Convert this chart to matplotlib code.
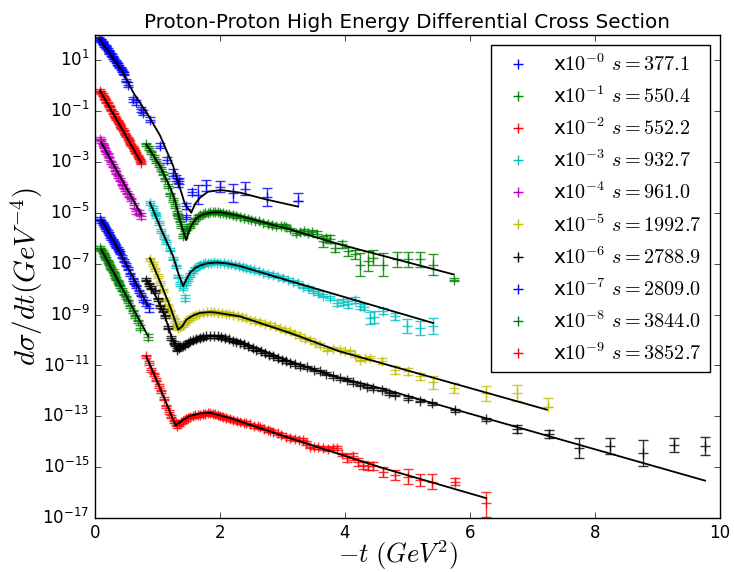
import numpy as np
import matplotlib
matplotlib.use('Agg')
import matplotlib.pyplot as plt

plt.style.use('classic')
plt.rcParams['axes.unicode_minus'] = False
plt.rcParams['mathtext.fontset'] = 'cm'

# centre-of-mass energies (legend) and plotting colours
energies = [377.1, 550.4, 552.2, 932.7, 961.0, 1992.7, 2788.9, 2809.0, 3844.0, 3852.7]
colors = ['b', 'g', 'r', 'c', 'm', 'y', 'k', 'b', 'g', 'r']

# ---- data: -t (GeV^2) and log10 of plotted (scaled by 10^-i) dsigma/dt ----
t0 = [0.07, 0.09, 0.10, 0.12, 0.13, 0.15, 0.17, 0.18, 0.20, 0.22, 0.23, 0.25, 0.27, 0.29, 0.31,
      0.33, 0.35, 0.37, 0.39, 0.41, 0.43, 0.45, 0.47, 0.50, 0.53, 0.61, 0.65, 0.73, 0.76, 0.88,
      1.04, 1.15, 1.24, 1.29, 1.33, 1.35, 1.45, 1.46, 1.55, 1.65, 1.78, 2.00, 2.20, 2.40, 2.75, 3.25]
y0 = [1.88, 1.80, 1.78, 1.70, 1.68, 1.60, 1.53, 1.51, 1.42, 1.36, 1.33, 1.25, 1.18, 1.12, 1.04,
      0.97, 0.89, 0.83, 0.75, 0.69, 0.62, 0.53, 0.47, 0.20, 0.05, -0.52, -0.65, -0.92, -1.05, -1.34,
      -2.36, -2.92, -3.41, -3.64, -3.83, -3.75, -4.73, -5.15, -4.18, -4.28, -3.92, -3.96, -4.20, -4.04, -4.36, -4.53]

t1 = [0.82, 0.86, 0.90, 0.94, 0.98, 1.02, 1.06, 1.09, 1.12, 1.16, 1.20, 1.24, 1.28, 1.31, 1.33,
      1.36, 1.38, 1.41, 1.44, 1.47, 1.52, 1.56, 1.60, 1.64, 1.68, 1.72, 1.76, 1.80, 1.84, 1.88,
      1.92, 1.96, 2.00, 2.05, 2.10, 2.15, 2.20, 2.26, 2.32, 2.38, 2.44, 2.50, 2.56, 2.62, 2.69,
      2.76, 2.83, 2.90, 2.97, 3.03, 3.06, 3.12, 3.22, 3.28, 3.34, 3.40, 3.47, 3.55, 3.65, 3.70,
      3.76, 3.84, 3.95, 4.05, 4.16, 4.24, 4.37, 4.45, 4.61, 4.83, 5.01, 5.20, 5.41, 5.74]
y1 = [-2.30, -2.45, -2.62, -2.80, -2.96, -3.12, -3.28, -3.45, -3.68, -3.95, -4.27, -4.50, -4.73, -5.00, -5.12,
      -5.30, -5.52, -5.91, -5.70, -5.60, -5.52, -5.38, -5.25, -5.17, -5.10, -5.05, -5.02, -4.99, -4.98, -4.97,
      -4.98, -4.97, -4.99, -5.00, -5.03, -5.05, -5.09, -5.12, -5.14, -5.19, -5.22, -5.26, -5.30, -5.33, -5.38,
      -5.43, -5.47, -5.52, -5.52, -5.50, -5.54, -5.65, -5.78, -5.76, -5.72, -5.79, -5.75, -5.84, -6.12, -6.00,
      -6.02, -6.37, -6.24, -6.50, -6.63, -7.03, -6.90, -6.76, -7.03, -6.83, -6.83, -6.83, -7.03, -7.62]

t2 = [0.08, 0.10, 0.12, 0.14, 0.16, 0.18, 0.20, 0.22, 0.24, 0.26, 0.28, 0.30, 0.32, 0.34, 0.36, 0.38, 0.40,
      0.42, 0.44, 0.46, 0.48, 0.50, 0.52, 0.54, 0.56, 0.58, 0.60, 0.62, 0.64, 0.66, 0.68, 0.70, 0.72, 0.74]
y2 = [-0.19, -0.27, -0.35, -0.45, -0.52, -0.62, -0.69, -0.79, -0.85, -0.95, -1.05, -1.12, -1.22, -1.30, -1.38,
      -1.47, -1.55, -1.64, -1.72, -1.79, -1.90, -1.98, -2.07, -2.15, -2.23, -2.33, -2.41, -2.50, -2.58, -2.64,
      -2.76, -2.84, -2.93, -3.02]

t3 = [0.88, 0.92, 0.96, 0.98, 1.02, 1.06, 1.10, 1.14, 1.20, 1.25, 1.29, 1.33, 1.36, 1.40, 1.44, 1.45,
      1.48, 1.52, 1.56, 1.60, 1.64, 1.68, 1.72, 1.76, 1.80, 1.85, 1.90, 1.95, 2.00, 2.06, 2.12, 2.18,
      2.24, 2.30, 2.36, 2.42, 2.48, 2.55, 2.62, 2.69, 2.76, 2.84, 2.92, 3.01, 3.09, 3.17, 3.25, 3.33,
      3.41, 3.49, 3.57, 3.65, 3.76, 3.87, 3.96, 4.05, 4.16, 4.24, 4.30, 4.40, 4.46, 4.61, 4.80, 4.99, 5.20, 5.41]
y3 = [-4.60, -4.80, -5.02, -5.12, -5.40, -5.70, -5.95, -6.15, -6.44, -6.80, -7.10, -7.50, -7.80, -7.95, -8.34, -7.75,
      -7.60, -7.45, -7.30, -7.18, -7.10, -7.04, -7.00, -6.98, -6.96, -6.95, -6.94, -6.95, -6.95, -6.97, -6.99, -7.02,
      -7.05, -7.08, -7.12, -7.16, -7.20, -7.25, -7.30, -7.35, -7.40, -7.45, -7.50, -7.55, -7.62, -7.70, -7.76, -7.90,
      -7.95, -8.08, -8.15, -8.25, -8.35, -8.54, -8.52, -8.60, -8.41, -8.67, -8.70, -9.13, -9.10, -8.87, -9.07, -9.46, -9.52, -9.46]

t4 = [0.08, 0.10, 0.12, 0.14, 0.16, 0.18, 0.20, 0.23, 0.26, 0.29, 0.32, 0.34, 0.37, 0.40, 0.43, 0.45,
      0.48, 0.51, 0.54, 0.58, 0.62, 0.66, 0.70, 0.74]
y4 = [-2.08, -2.17, -2.30, -2.40, -2.52, -2.62, -2.70, -2.85, -3.00, -3.15, -3.30, -3.41, -3.55, -3.70, -3.85, -3.94,
      -4.07, -4.20, -4.32, -4.47, -4.70, -4.93, -5.00, -5.12]

t5 = [0.88, 0.92, 0.96, 1.00, 1.04, 1.08, 1.12, 1.16, 1.20, 1.24, 1.28, 1.31, 1.33, 1.36, 1.40, 1.44,
      1.48, 1.52, 1.57, 1.62, 1.67, 1.73, 1.79, 1.85, 1.91, 1.97, 2.03, 2.09, 2.15, 2.21, 2.28, 2.35,
      2.42, 2.48, 2.56, 2.64, 2.72, 2.80, 2.88, 2.96, 3.04, 3.12, 3.20, 3.28, 3.36, 3.44, 3.52, 3.60,
      3.71, 3.80, 3.92, 4.00, 4.08, 4.16, 4.24, 4.32, 4.40, 4.59, 4.80, 5.01, 5.20, 5.40, 5.75, 6.26, 6.75, 7.25]
y5 = [-6.83, -7.00, -7.22, -7.48, -7.75, -8.05, -8.41, -8.65, -8.87, -9.08, -9.26, -9.42, -9.52, -9.48, -9.40, -9.33,
      -9.22, -9.13, -9.07, -9.00, -8.96, -8.93, -8.91, -8.90, -8.91, -8.92, -8.94, -8.96, -8.98, -9.00, -9.04, -9.09,
      -9.15, -9.20, -9.25, -9.30, -9.35, -9.39, -9.46, -9.54, -9.60, -9.66, -9.75, -9.85, -9.96, -9.98, -10.10, -10.20,
      -10.38, -10.34, -10.38, -10.45, -10.45, -10.60, -10.77, -10.72, -10.71, -10.82, -11.17, -11.23, -11.43, -11.66,
      -11.89, -12.10, -12.08, -12.64]

t6 = [0.82, 0.86, 0.90, 0.96, 1.00, 1.04, 1.08, 1.12, 1.17, 1.22, 1.26, 1.28, 1.31, 1.34, 1.36, 1.40,
      1.44, 1.48, 1.52, 1.57, 1.62, 1.68, 1.73, 1.78, 1.84, 1.90, 1.96, 2.02, 2.08, 2.14, 2.20, 2.26,
      2.32, 2.38, 2.45, 2.52, 2.58, 2.65, 2.72, 2.78, 2.85, 2.92, 2.99, 3.05, 3.12, 3.20, 3.28, 3.39,
      3.50, 3.60, 3.70, 3.81, 3.92, 4.03, 4.13, 4.24, 4.35, 4.45, 4.59, 4.70, 4.80, 5.01, 5.20, 5.39,
      5.76, 6.26, 6.75, 7.27, 7.75, 8.24, 8.77, 9.26, 9.76]
y6 = [-7.62, -7.80, -7.95, -8.08, -8.40, -8.67, -8.85, -9.07, -9.52, -9.92, -10.10, -10.18, -10.38, -10.30, -10.25, -10.22,
      -10.18, -10.10, -10.05, -10.00, -9.96, -9.92, -9.88, -9.85, -9.85, -9.85, -9.86, -9.88, -9.92, -9.97, -10.02, -10.07,
      -10.11, -10.17, -10.24, -10.32, -10.38, -10.45, -10.52, -10.58, -10.64, -10.71, -10.78, -10.84, -10.90, -10.96, -11.02, -11.07,
      -11.16, -11.23, -11.32, -11.43, -11.50, -11.56, -11.66, -11.76, -11.83, -11.89, -11.95, -12.10, -12.15, -12.28, -12.38, -12.48,
      -12.77, -13.11, -13.50, -13.69, -14.25, -14.16, -14.45, -14.12, -14.16]

t7 = [0.08, 0.10, 0.12, 0.14, 0.16, 0.18, 0.20, 0.22, 0.24, 0.26, 0.28, 0.30, 0.32, 0.34, 0.36, 0.38,
      0.40, 0.43, 0.46, 0.49, 0.52, 0.56, 0.60, 0.63, 0.66, 0.70, 0.73, 0.77, 0.82, 0.86]
y7 = [-5.22, -5.32, -5.40, -5.48, -5.56, -5.65, -5.74, -5.82, -5.91, -5.99, -6.07, -6.15, -6.24, -6.32, -6.40, -6.48,
      -6.57, -6.72, -6.88, -7.03, -7.20, -7.42, -7.60, -7.74, -7.88, -8.08, -8.22, -8.41, -8.55, -8.73]

t8 = [0.08, 0.10, 0.12, 0.14, 0.16, 0.18, 0.20, 0.22, 0.24, 0.26, 0.28, 0.30, 0.32, 0.34, 0.36, 0.38,
      0.40, 0.43, 0.46, 0.49, 0.52, 0.56, 0.60, 0.64, 0.68, 0.72, 0.85]
y8 = [-6.36, -6.44, -6.53, -6.62, -6.72, -6.81, -6.90, -7.00, -7.09, -7.19, -7.28, -7.38, -7.48, -7.58, -7.68, -7.78,
      -7.88, -8.03, -8.18, -8.32, -8.47, -8.67, -8.86, -9.06, -9.27, -9.52, -9.88]

t9 = [0.82, 0.86, 0.90, 0.94, 0.98, 1.02, 1.06, 1.10, 1.14, 1.18, 1.22, 1.26, 1.29, 1.31, 1.35, 1.38,
      1.41, 1.45, 1.49, 1.52, 1.56, 1.60, 1.64, 1.68, 1.72, 1.76, 1.80, 1.84, 1.88, 1.92, 1.96, 2.00,
      2.05, 2.10, 2.16, 2.21, 2.27, 2.32, 2.38, 2.42, 2.48, 2.54, 2.60, 2.64, 2.70, 2.76, 2.80, 2.85,
      2.92, 2.98, 3.05, 3.12, 3.20, 3.27, 3.33, 3.38, 3.44, 3.50, 3.56, 3.65, 3.72, 3.80, 3.87, 3.95,
      4.03, 4.13, 4.20, 4.29, 4.37, 4.45, 4.61, 4.80, 5.01, 5.20, 5.39, 5.76, 6.26]
y9 = [-10.64, -10.90, -11.17, -11.35, -11.56, -11.80, -12.02, -12.30, -12.61, -12.82, -13.01, -13.20, -13.27, -13.40, -13.30, -13.22,
      -13.20, -13.12, -13.05, -13.01, -12.98, -12.96, -12.95, -12.94, -12.90, -12.89, -12.88, -12.87, -12.90, -12.92, -12.95, -12.98,
      -13.02, -13.06, -13.10, -13.14, -13.18, -13.22, -13.25, -13.27, -13.32, -13.37, -13.40, -13.42, -13.48, -13.53, -13.56, -13.60,
      -13.67, -13.74, -13.80, -13.86, -13.90, -13.92, -13.93, -14.05, -14.19, -14.20, -14.22, -14.25, -14.28, -14.24, -14.25, -14.50,
      -14.65, -14.58, -14.80, -14.91, -14.95, -14.95, -15.18, -15.31, -15.37, -15.50, -15.57, -15.57, -16.42]

T = [t0, t1, t2, t3, t4, t5, t6, t7, t8, t9]
LOGY = [y0, y1, y2, y3, y4, y5, y6, y7, y8, y9]

# error bars (in decades): default per series, plus larger ones {t: (down, up)}
err_default = [0.06, 0.07, 0.05, 0.07, 0.06, 0.07, 0.06, 0.06, 0.06, 0.07]
err_special = [
    {0.53: (0.1, 0.1), 0.61: (0.1, 0.1), 0.65: (0.1, 0.1), 0.73: (0.1, 0.1), 0.76: (0.1, 0.1),
     0.88: (0.1, 0.1), 1.04: (0.1, 0.1), 1.15: (0.12, 0.12), 1.24: (0.12, 0.12), 1.29: (0.12, 0.12),
     1.33: (0.15, 0.15), 1.35: (0.12, 0.12), 1.45: (0.12, 0.12), 1.46: (0.08, 0.08), 1.55: (0.12, 0.12),
     1.65: (0.36, 0.36), 1.78: (0.2, 0.2), 2.00: (0.2, 0.2), 2.20: (0.35, 0.35), 2.40: (0.25, 0.25),
     2.75: (0.36, 0.36), 3.25: (0.0, 0.33)},
    {3.55: (0.12, 0.12), 3.65: (0.2, 0.2), 3.70: (0.15, 0.15), 3.76: (0.15, 0.15), 3.84: (0.18, 0.18),
     3.95: (0.15, 0.15), 4.05: (0.18, 0.18), 4.16: (0.18, 0.18), 4.24: (0.46, 0.46), 4.37: (0.40, 0.40),
     4.45: (0.30, 0.30), 4.61: (0.46, 0.46), 4.83: (0.28, 0.28), 5.01: (0.28, 0.28), 5.20: (0.28, 0.28),
     5.41: (0.43, 0.43), 5.74: (0.05, 0.05)},
    {},
    {1.44: (0.13, 0.13), 3.87: (0.12, 0.12), 3.96: (0.12, 0.12), 4.05: (0.12, 0.12), 4.16: (0.12, 0.12),
     4.24: (0.12, 0.12), 4.30: (0.12, 0.12), 4.40: (0.24, 0.24), 4.46: (0.24, 0.24), 4.61: (0.12, 0.12),
     4.80: (0.15, 0.15), 4.99: (0.28, 0.28), 5.20: (0.28, 0.28), 5.41: (0.32, 0.32)},
    {0.62: (0.1, 0.1), 0.66: (0.1, 0.1), 0.70: (0.1, 0.1), 0.74: (0.1, 0.1)},
    {4.59: (0.12, 0.12), 4.80: (0.15, 0.15), 5.01: (0.15, 0.15), 5.20: (0.15, 0.15), 5.40: (0.25, 0.25),
     5.75: (0.2, 0.2), 6.26: (0.3, 0.3), 6.75: (0.3, 0.3), 7.25: (0.0, 0.35)},
    {6.75: (0.15, 0.15), 7.27: (0.16, 0.16), 7.75: (0.40, 0.40), 8.24: (0.32, 0.32), 8.77: (0.50, 0.50),
     9.26: (0.28, 0.28), 9.76: (0.36, 0.36)},
    {0.77: (0.1, 0.1), 0.82: (0.12, 0.12), 0.86: (0.15, 0.15)},
    {0.72: (0.1, 0.1), 0.85: (0.13, 0.13)},
    {4.03: (0.15, 0.15), 4.13: (0.15, 0.15), 4.20: (0.15, 0.15), 4.29: (0.15, 0.15), 4.37: (0.15, 0.15),
     4.45: (0.15, 0.15), 4.61: (0.2, 0.2), 4.80: (0.2, 0.2), 5.01: (0.28, 0.28), 5.20: (0.24, 0.24),
     5.39: (0.3, 0.3), 5.76: (0.15, 0.15), 6.26: (0.55, 0.45)},
]

# ---- fit curves (black lines), log10 of plotted value ----
ft0 = [0.07, 0.30, 0.45, 0.61, 0.85, 1.04, 1.25, 1.44, 1.54, 1.60, 1.68, 1.81, 2.02, 2.32, 2.74, 3.25]
fy0 = [1.86, 1.05, 0.52, -0.25, -1.15, -1.95, -3.15, -4.66, -4.99, -4.65, -4.40, -4.16, -4.10, -4.20, -4.47, -4.75]
ft1 = [0.82, 0.95, 1.05, 1.14, 1.22, 1.28, 1.36, 1.46, 1.52, 1.57, 1.65, 1.73, 1.85, 2.00, 2.32, 3.12, 3.92, 5.74]
fy1 = [-2.30, -2.80, -3.20, -3.68, -4.10, -4.50, -5.30, -6.07, -5.60, -5.38, -5.15, -5.06, -4.99, -4.97, -5.12, -5.65, -6.24, -7.42]
ft2 = [0.08, 0.74]
fy2 = [-0.19, -3.02]
ft3 = [0.88, 1.06, 1.25, 1.33, 1.41, 1.46, 1.52, 1.60, 1.68, 1.80, 1.94, 2.10, 2.32, 3.12, 5.41]
fy3 = [-4.60, -5.65, -6.70, -7.35, -7.88, -7.62, -7.35, -7.17, -7.07, -6.98, -6.95, -6.98, -7.09, -7.68, -9.33]
ft4 = [0.10, 0.74]
fy4 = [-2.23, -5.06]
ft5 = [0.88, 1.04, 1.20, 1.33, 1.40, 1.46, 1.57, 1.68, 1.85, 1.94, 2.32, 3.12, 3.92, 7.23]
fy5 = [-6.78, -7.70, -8.67, -9.59, -9.45, -9.20, -9.03, -8.93, -8.90, -8.92, -9.07, -9.72, -10.45, -12.74]
ft6 = [0.82, 1.00, 1.12, 1.22, 1.32, 1.40, 1.52, 1.65, 1.85, 2.00, 2.32, 3.12, 3.92, 4.56, 9.76]
fy6 = [-7.62, -8.40, -9.07, -9.85, -10.41, -10.25, -10.02, -9.88, -9.82, -9.86, -10.05, -10.84, -11.49, -11.89, -15.53]
ft7 = [0.10, 0.40, 0.85]
fy7 = [-5.25, -6.55, -8.67]
ft8 = [0.10, 0.85]
fy8 = [-6.44, -9.85]
ft9 = [0.82, 1.06, 1.29, 1.40, 1.52, 1.70, 1.84, 2.16, 3.12, 4.61, 6.26]
fy9 = [-10.64, -12.00, -13.36, -13.15, -12.98, -12.88, -12.86, -13.07, -13.86, -15.04, -16.22]

FT = [ft0, ft1, ft2, ft3, ft4, ft5, ft6, ft7, ft8, ft9]
FY = [fy0, fy1, fy2, fy3, fy4, fy5, fy6, fy7, fy8, fy9]

fig = plt.figure(figsize=(7.34, 5.72), dpi=100, facecolor='white')
ax = fig.add_axes([95 / 734, 1 - 518 / 572, (720 - 95) / 734, (518 - 35) / 572])
ax.set_facecolor('white')

for i in range(10):
    t = np.array(T[i])
    ly = np.array(LOGY[i])
    y = 10.0 ** ly
    lo = np.full(len(t), err_default[i])
    up = np.full(len(t), err_default[i])
    for k, tv in enumerate(t):
        for key, (d, u) in err_special[i].items():
            if abs(key - tv) < 1e-9:
                lo[k], up[k] = d, u
    yerr = [y - 10.0 ** (ly - lo), 10.0 ** (ly + up) - y]
    c = colors[i]
    ax.errorbar(t, y, yerr=yerr, fmt='none', ecolor=c, elinewidth=1.0, capsize=3.5,
                capthick=1.0, alpha=0.8, zorder=2)
    ax.plot(t, y, '+', color=c, ms=7, mew=1.0, alpha=0.8, zorder=2,
            label=r'x$10^{-%d}$ $s=%.1f$' % (i, energies[i]))
    ax.plot(FT[i], 10.0 ** np.array(FY[i]), '-', color='k', lw=1.3, zorder=3)

ax.set_yscale('log')
ax.set_xlim(0, 10)
ax.set_ylim(1e-17, 1e2)
ax.set_yticks([10.0 ** k for k in range(-17, 2, 2)])
ax.yaxis.set_minor_locator(matplotlib.ticker.NullLocator())
ax.set_xticks([0, 2, 4, 6, 8, 10])
ax.tick_params(labelsize=12)

ax.set_title('Proton-Proton High Energy Differential Cross Section', fontsize=14.4)
ax.set_xlabel(r'$-t\ (GeV^2)$', fontsize=19)
ax.xaxis.set_label_coords(0.485, -0.042)
ax.set_ylabel(r'$d\sigma/dt(GeV^{-4})$', fontsize=21)
ax.yaxis.set_label_coords(-0.08, 0.5)

leg = ax.legend(loc='upper right', numpoints=1, fontsize=14.5, frameon=True, fancybox=False,
                labelspacing=0.53, handlelength=1.9, handletextpad=0.8, borderpad=0.4)
leg.get_frame().set_edgecolor('k')
for h in leg.legend_handles:
    h.set_alpha(1.0)

fig.savefig('out.png', dpi=100, facecolor='white')
